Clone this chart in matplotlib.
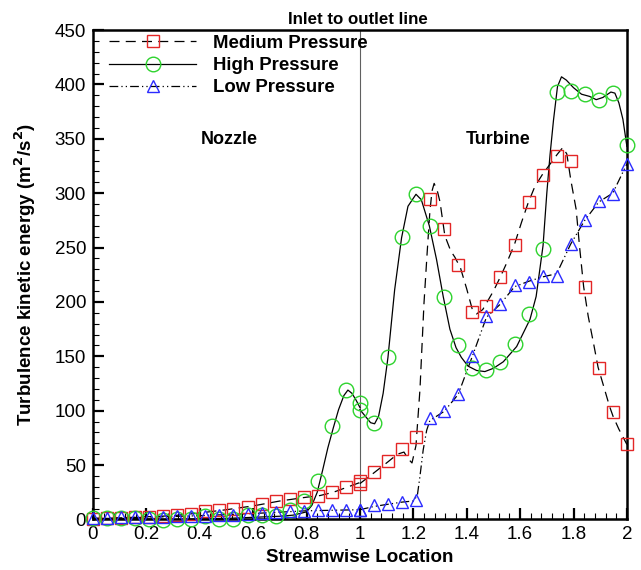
import numpy as np
import matplotlib
matplotlib.use('Agg')
import matplotlib.pyplot as plt
from matplotlib.lines import Line2D
from matplotlib.ticker import MultipleLocator

plt.rcParams['font.family'] = ['Liberation Sans', 'DejaVu Sans']

# marker positions (nozzle zone 0-1, turbine zone 1-2)
x_noz = [0.0, 0.053, 0.105, 0.158, 0.211, 0.263, 0.316, 0.368, 0.421, 0.474,
         0.526, 0.579, 0.632, 0.684, 0.737, 0.789, 0.842, 0.895, 0.947, 1.0]
x_tur = [1.0, 1.053, 1.105, 1.158, 1.211, 1.263, 1.316, 1.368, 1.421, 1.474,
         1.526, 1.579, 1.632, 1.684, 1.737, 1.789, 1.842, 1.895, 1.947, 2.0]

# marker values
med_noz = [0.5, 1, 1.5, 2, 2.5, 3.5, 3.7, 4.6, 8, 8.6,
           9.8, 11.6, 14.4, 16.8, 18.4, 20.5, 22, 25, 29.5, 35]
med_tur = [32.8, 43.8, 53.6, 65, 75.6, 295, 267, 233.6, 191, 196,
           223, 252.5, 291.7, 316.8, 334, 329.6, 214, 139, 99, 69]
high_noz = [1.5, 1.5, 1.5, 1.5, 0, -0.5, 0, 0, 3, 0,
            0, 4.5, 4.5, 3, 8.5, 16.8, 35, 86, 119, 107]
high_tur = [101, 89, 149, 259.6, 299, 270, 205, 160, 139, 137,
            145, 161, 189, 249, 393, 394, 391, 386, 392, 344]
low_noz = [1, 1.5, 2, 2, 2.5, 2.5, 3, 3, 3.5, 4,
           4.5, 5.5, 6, 6.5, 7.5, 8, 8.5, 8.5, 8.5, 9]
low_tur = [9, 12.9, 14.7, 16.5, 17.7, 93.4, 99.5, 115, 150, 186.7,
           198, 216, 218.8, 224, 224, 253.4, 275, 293, 299, 327]

# line traces (finer sampling)
med_lx_noz = [0, 0.1, 0.2, 0.3, 0.4, 0.5, 0.6, 0.7, 0.8, 0.85, 0.9, 0.95, 1.0]
med_ly_noz = [0.5, 1.5, 2.5, 3.5, 6, 9, 12.5, 17, 20.5, 22, 25, 29.5, 34]
med_lx_tur = [1.0, 1.053, 1.105, 1.14, 1.165, 1.18, 1.195, 1.21, 1.225, 1.24,
              1.252, 1.262, 1.27, 1.278, 1.29, 1.30, 1.318, 1.34, 1.356, 1.377,
              1.40, 1.42, 1.437, 1.46, 1.5, 1.526, 1.55, 1.579, 1.605, 1.63,
              1.655, 1.683, 1.71, 1.74, 1.76, 1.775, 1.79, 1.81, 1.823, 1.838,
              1.855, 1.875, 1.892, 1.91, 1.935, 1.948, 1.97, 2.0]
med_ly_tur = [33, 43, 53, 60, 62, 56, 52, 68, 120, 199,
              246, 283, 302, 309, 302, 292, 261, 247, 241, 231,
              212, 194, 189, 193, 210, 223, 236, 253, 273, 291,
              306, 317, 326, 336, 342, 336, 312, 285, 250, 214,
              187, 162, 140, 125, 104, 95, 83, 69]

high_lx_noz = [0, 0.1, 0.2, 0.3, 0.4, 0.5, 0.6, 0.7, 0.75, 0.8, 0.82, 0.84,
               0.86, 0.88, 0.9, 0.92, 0.94, 0.955, 0.97, 0.985, 1.0]
high_ly_noz = [1, 1, 0.5, 0, 0.5, 1, 2, 3, 4, 7, 13, 25,
               45, 66, 84, 101, 114, 119, 116, 110, 103]
high_lx_tur = [1.0, 1.02, 1.04, 1.055, 1.07, 1.087, 1.105, 1.13, 1.156, 1.18,
               1.21, 1.23, 1.26, 1.287, 1.312, 1.337, 1.36, 1.38, 1.405, 1.437,
               1.468, 1.5, 1.537, 1.587, 1.637, 1.66, 1.675, 1.686, 1.70, 1.712,
               1.725, 1.74, 1.755, 1.773, 1.80, 1.83, 1.86, 1.885, 1.91, 1.94,
               1.955, 1.97, 1.985, 2.0]
high_ly_tur = [101, 95, 89, 88, 95, 116, 149, 211, 259, 288,
               299, 294, 270, 239, 205, 175, 158, 149, 141, 137,
               136, 139, 145, 159, 184, 205, 232, 252, 300, 335,
               367, 398, 407, 404, 397, 391, 389, 386, 388, 393,
               392, 383, 368, 343]

low_lx_noz = [0, 0.2, 0.4, 0.6, 0.8, 0.9, 1.0]
low_ly_noz = [1, 2, 3.5, 5.5, 8, 8.5, 9]
low_lx_tur = [1.0, 1.053, 1.105, 1.158, 1.2, 1.215, 1.225, 1.237, 1.25, 1.262,
              1.316, 1.368, 1.421, 1.474, 1.526, 1.579, 1.632, 1.684, 1.737, 1.789,
              1.842, 1.895, 1.947, 2.0]
low_ly_tur = [9, 12, 14, 16, 17, 22, 40, 64, 82, 91,
              99.5, 115, 150, 186, 198, 214, 219, 223, 226, 253,
              275, 292, 300, 327]

red = '#e32626'
green = '#2ed32e'
blue = '#2b2bff'
med_ls = (0, (8, 5))
low_ls = (0, (7, 2.5, 1, 2.5, 1, 2.5))

fig = plt.figure(figsize=(6.41, 5.70), dpi=100)
ax = fig.add_axes([0.145, 0.0886, 0.833, 0.8587])

ax.axvline(1.0, color='#606060', lw=0.8, zorder=1)

for lx, ly in [(med_lx_noz, med_ly_noz), (med_lx_tur, med_ly_tur)]:
    ax.plot(lx, ly, color='black', lw=0.9, ls=med_ls)
for lx, ly in [(high_lx_noz, high_ly_noz), (high_lx_tur, high_ly_tur)]:
    ax.plot(lx, ly, color='black', lw=0.9, ls='-')
for lx, ly in [(low_lx_noz, low_ly_noz), (low_lx_tur, low_ly_tur)]:
    ax.plot(lx, ly, color='black', lw=0.9, ls=low_ls)

mk = dict(ls='none', mfc='none', mew=1.0, clip_on=False, zorder=4)
for xs, ys in [(x_noz, med_noz), (x_tur, med_tur)]:
    ax.plot(xs, ys, marker='s', ms=8, mec=red, **mk)
for xs, ys in [(x_noz, high_noz), (x_tur, high_tur)]:
    ax.plot(xs, ys, marker='o', ms=10.5, mec=green, **mk)
for xs, ys in [(x_noz, low_noz), (x_tur, low_tur)]:
    ax.plot(xs, ys, marker='^', ms=8.5, mec=blue, **mk)

handles = [
    Line2D([], [], color='black', lw=0.9, ls=med_ls, marker='s', ms=8, mfc='none', mec=red),
    Line2D([], [], color='black', lw=0.9, ls='-', marker='o', ms=10.5, mfc='none', mec=green),
    Line2D([], [], color='black', lw=0.9, ls=low_ls, marker='^', ms=8.5, mfc='none', mec=blue),
]
labels = ['Medium Pressure', 'High Pressure', 'Low Pressure']
leg = ax.legend(handles, labels, loc='upper left', bbox_to_anchor=(0.03, 0.99),
                frameon=False, numpoints=1, handlelength=4.7, handletextpad=0.9,
                labelspacing=0.28, borderpad=0, borderaxespad=0,
                prop={'weight': 'bold', 'size': 13.4})
leg.set_zorder(5)

ax.text(0.51, 349, 'Nozzle', ha='center', va='center', fontsize=13, fontweight='bold')
ax.text(1.517, 349, 'Turbine', ha='center', va='center', fontsize=13, fontweight='bold')

ax.set_xlim(0, 2)
ax.set_ylim(0, 450)
ax.xaxis.set_major_locator(MultipleLocator(0.2))
ax.xaxis.set_minor_locator(MultipleLocator(0.04))
ax.yaxis.set_major_locator(MultipleLocator(50))
ax.yaxis.set_minor_locator(MultipleLocator(10))
ax.set_xticks(np.arange(0, 2.01, 0.2))
ax.set_xticklabels(['0', '0.2', '0.4', '0.6', '0.8', '1', '1.2', '1.4', '1.6', '1.8', '2'])
ax.tick_params(which='major', direction='in', length=8, width=1.6, labelsize=13.5, pad=5)
ax.tick_params(which='minor', direction='in', length=4.5, width=0.8)
ax.tick_params(axis='y', which='both', left=True, right=False)
ax.tick_params(axis='x', which='both', bottom=True, top=False)
for s in ax.spines.values():
    s.set_linewidth(1.8)

ax.set_xlabel('Streamwise Location', fontsize=13.5, fontweight='bold', labelpad=4)
ax.set_ylabel('Turbulence kinetic energy (m$^\\mathbf{2}$/s$^\\mathbf{2}$)',
              fontsize=13.5, fontweight='bold', labelpad=12)
fig.text(0.558, 0.966, 'Inlet to outlet line', ha='center', va='center',
         fontsize=12.2, fontweight='bold')

fig.savefig('out.png', dpi=100)
